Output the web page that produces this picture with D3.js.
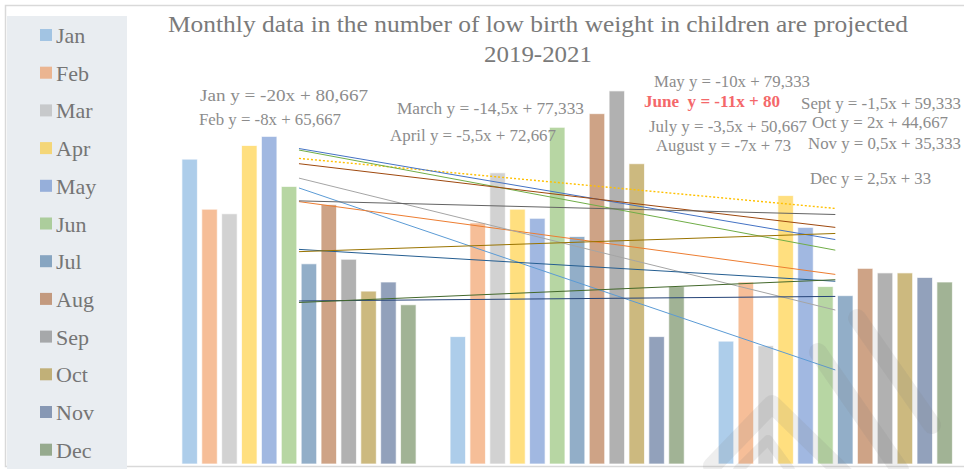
<!DOCTYPE html>
<html lang="en">
<head>
<meta charset="UTF-8">
<script src="https://cdn.jsdelivr.net/npm/d3@7"></script>
<title>Low birth weight 2019-2021</title>
<style>
  body { margin: 0; background: #fff; }
  svg { display: block; font-family: "Liberation Serif", "Times New Roman", serif; }
  .lbl { fill: #8c8c8c; font-size: 16px; white-space: pre; }
</style>
</head>
<body>
<div id="chart"></div>
<script>
// data
var months = ["Jan", "Feb", "Mar", "Apr", "May", "Jun", "Jul", "Aug", "Sep", "Oct", "Nov", "Dec"];
var years = ["2019", "2020", "2021"];
var v2019 = [67, 56, 55, 70, 72, 61, 44, 57, 45, 38, 40, 35];
var v2020 = [28, 53, 64, 56, 54, 74, 50, 77, 82, 66, 28, 39];
var v2021 = [27, 40, 26, 59, 52, 39, 37, 43, 42, 42, 41, 40];

// trend lines y = a*x + b  (x = 1..3)
var slopes = [-20, -8, -14.5, -5.5, -10, -11, -3.5, -7, -1.5, 2, 0.5, 2.5];
var intercepts = [80.667, 65.667, 77.333, 72.667, 79.333, 80, 50.667, 73, 59.333, 44.667, 35.333, 33];
var trendLabels = ["Jan y = -20x + 80,667", "Feb y = -8x + 65,667", "March y = -14,5x + 77,333",
  "April y = -5,5x + 72,667", "May y = -10x + 79,333", "June  y = -11x + 80",
  "July y = -3,5x + 50,667", "August y = -7x + 73", "Sept y = -1,5x + 59,333",
  "Oct y = 2x + 44,667", "Nov y = 0,5x + 35,333", "Dec y = 2,5x + 33"];

var colors = ["#5B9BD5", "#ED7D31", "#A5A5A5", "#FFC000", "#4472C4", "#70AD47",
              "#255E91", "#9E480E", "#636363", "#997300", "#264478", "#43682B"];

// where each equation sits: [x, baseline, width]
var labelPos = [[200, 101, 168], [199, 125, 142], [397, 114, 187], [390, 141, 166],
  [654, 87, 156], [644, 107, 136], [649, 132, 158], [656, 151, 135],
  [801, 109, 160], [812, 128, 136], [808, 149, 153], [810, 184, 121]];

var W = 964, H = 469;
var values = [v2019, v2020, v2021];

var svg = d3.select("#chart").append("svg")
  .attr("width", W)
  .attr("height", H);

// frame + legend panel
svg.append("rect")
  .attr("x", 5.5).attr("y", 5.5)
  .attr("width", 975).attr("height", 461)
  .attr("fill", "none")
  .attr("stroke", "#d9d9d9")
  .attr("stroke-width", 1.5);

svg.append("rect")
  .attr("x", 7).attr("y", 16)
  .attr("width", 120).attr("height", 460)
  .attr("fill", "#e9edf1");

// scales
var x0 = d3.scaleBand().domain(years).range([164.9, 969.4]);
var x1 = d3.scaleBand().domain(months)
  .range([17, x0.bandwidth() - 17])
  .paddingInner(0.22);
var y = d3.scaleLinear().domain([0, 100]).range([464, 9]);
var xt = d3.scaleLinear().domain([1, 3])
  .range([x0("2019") + x0.bandwidth() / 2, x0("2021") + x0.bandwidth() / 2]);

// bars
var groups = svg.selectAll(".yr")
  .data(years)
  .enter()
  .append("g")
  .attr("class", "yr")
  .attr("transform", function(d) { return "translate(" + x0(d) + ",0)"; });

groups.selectAll("rect")
  .data(function(d, i) { return values[i].map(function(v, j) { return {m: months[j], v: v, c: colors[j]}; }); })
  .enter()
  .append("rect")
  .attr("x", function(d) { return x1(d.m); })
  .attr("y", function(d) { return y(d.v); })
  .attr("width", x1.bandwidth())
  .attr("height", function(d) { return y(0) - y(d.v); })
  .attr("fill", function(d) { return d.c; })
  .attr("fill-opacity", 0.5)
  .attr("stroke", "#ffffff")
  .attr("stroke-opacity", 0.7)
  .attr("stroke-width", 1);

// trend lines
svg.selectAll(".trend")
  .data(months)
  .enter()
  .append("line")
  .attr("class", "trend")
  .attr("x1", xt(1))
  .attr("x2", xt(3))
  .attr("y1", function(d, i) { return y(slopes[i] * 1 + intercepts[i]); })
  .attr("y2", function(d, i) { return y(slopes[i] * 3 + intercepts[i]); })
  .attr("stroke", function(d, i) { return colors[i]; })
  .attr("stroke-width", function(d, i) { return i == 3 ? 1.4 : 1; })
  .attr("stroke-dasharray", function(d, i) { return i == 3 ? "2,2" : null; });

// equation labels
svg.selectAll(".lbl")
  .data(trendLabels)
  .enter()
  .append("text")
  .attr("class", "lbl")
  .attr("x", function(d, i) { return labelPos[i][0]; })
  .attr("y", function(d, i) { return labelPos[i][1]; })
  .attr("textLength", function(d, i) { return labelPos[i][2]; })
  .attr("lengthAdjust", "spacingAndGlyphs")
  .style("fill", function(d, i) { return i == 5 ? "#f4686a" : null; })
  .style("font-weight", function(d, i) { return i == 5 ? "bold" : null; })
  .text(function(d) { return d; });

// title
svg.append("text")
  .attr("x", 538).attr("y", 32)
  .attr("text-anchor", "middle")
  .attr("textLength", 740)
  .attr("lengthAdjust", "spacingAndGlyphs")
  .style("font-size", "24px")
  .style("fill", "#7a7a7a")
  .text("Monthly data in the number of low birth weight in children are projected");

svg.append("text")
  .attr("x", 538).attr("y", 62)
  .attr("text-anchor", "middle")
  .attr("textLength", 108)
  .attr("lengthAdjust", "spacingAndGlyphs")
  .style("font-size", "24px")
  .style("fill", "#7a7a7a")
  .text("2019-2021");

// legend
var leg = svg.selectAll(".leg")
  .data(months)
  .enter()
  .append("g")
  .attr("class", "leg")
  .attr("transform", function(d, i) { return "translate(40," + (35 + i * 37.7) + ")"; });

leg.append("rect")
  .attr("x", 0).attr("y", -6)
  .attr("width", 12).attr("height", 12)
  .attr("fill", function(d, i) { return colors[i]; })
  .attr("fill-opacity", 0.5);

leg.append("text")
  .attr("x", 16).attr("y", 8)
  .style("font-size", "22px")
  .style("fill", "#757575")
  .text(function(d) { return d; });

// faint watermark, bottom right
var wm = svg.append("g")
  .attr("fill", "none")
  .attr("stroke", "#7f7f7f")
  .attr("stroke-opacity", 0.13)
  .attr("stroke-linecap", "round")
  .attr("stroke-linejoin", "round")
  .attr("stroke-width", 18);

wm.append("path").attr("d", "M857,318 L932,425");
wm.append("path").attr("d", "M818,352 L900,470");
wm.append("path").attr("d", "M712,466 L772,404 L846,476");
wm.append("path").attr("d", "M738,470 L768,440 L790,470").attr("stroke-width", 10);
</script>
</body>
</html>
